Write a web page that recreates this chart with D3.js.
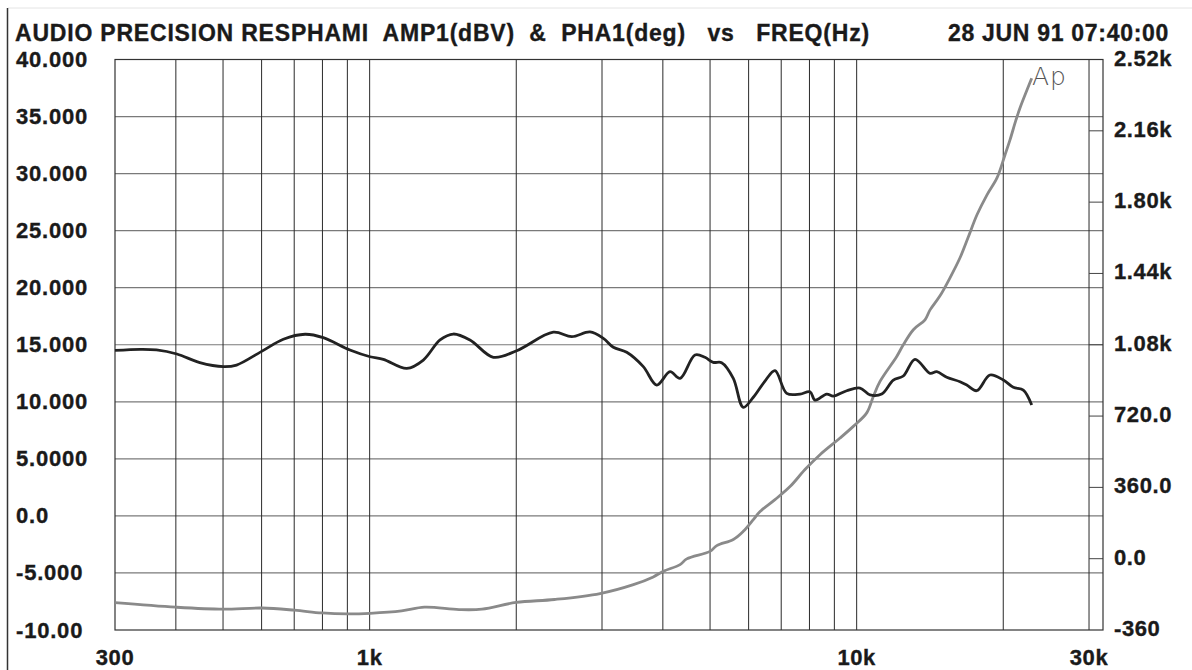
<html>
<head>
<meta charset="utf-8">
<script src="https://d3js.org/d3.v7.min.js"></script>
<style>
  body { margin: 0; background: #fff; }
  text { font-family: "Liberation Sans", Arial, sans-serif; font-weight: bold; fill: #1a1a1a; stroke: #1a1a1a; stroke-width: 0.35px; }
</style>
</head>
<body>
<svg id="chart"></svg>
<script>

// amplitude (dBV) vs frequency
var ampFreq = [300,338,365,402,448,501,533,600,665,737,803,911,1002,1067,1192,1289,1395,1485,1607,1795,2004,2383,2600,2835,3019,3165,3372,3647,3886,4138,4339,4657,4880,5075,5282,5581,5850,6135,6483,6797,7185,7652,8022,8214,8679,8954,9541,10162,10653,11258,11895,12468,13179,14149,14605,15311,16302,16828,17641,18782,20004,20973,21990,22879];
var ampDb = [14.5,14.6,14.55,14.19,13.43,13.08,13.22,14.42,15.48,15.92,15.62,14.54,13.95,13.72,12.93,13.66,15.42,15.94,15.42,13.9,14.48,16.1,15.71,16.12,15.56,14.78,14.34,13.08,11.47,12.64,12.05,14.1,13.9,13.46,13.43,12.06,9.52,10.4,11.82,12.73,10.74,10.68,10.88,10.15,10.68,10.5,10.97,11.2,10.6,10.68,11.9,12.26,13.72,12.5,12.64,12.15,11.76,11.47,10.97,12.35,11.91,11.27,11.03,9.72];

// phase (deg) vs frequency
var phaFreq = [300,400,500,601,701,798,899,1002,1163,1296,1526,1701,1998,2397,2972,3480,3823,4008,4339,4479,5000,5161,5581,5850,6135,6333,6797,7297,7833,8408,9244,9842,10488,10821,11168,12087,12468,13074,13815,14149,14830,15548,16302,16929,17664,18521,19415,20162,20647,21239,21645,22879];
var phaDeg = [-222,-245,-255,-249,-260,-274,-279,-276,-264,-245,-257,-255,-221,-206,-176,-131,-92,-64,-30,-1,37,66,97,138,197,238,298,364,450,525,609,668,736,819,895,1021,1080,1156,1206,1256,1327,1418,1519,1620,1736,1837,1922,2038,2114,2215,2275,2425];

var gridFreqs = [400,500,600,700,800,900,1000,2000,3000,4000,5000,6000,7000,8000,9000,10000,20000,30000];
var xTickVals = [300,1000,10000,30000];
var xTickLabels = ["300","1k","10k","30k"];
var leftVals = [40,35,30,25,20,15,10,5,0,-5,-10];
var leftLabels = ["40.000","35.000","30.000","25.000","20.000","15.000","10.000","5.0000","0.0","-5.000","-10.00"];
var rightVals = [2520,2160,1800,1440,1080,720,360,0,-360];
var rightLabels = ["2.52k","2.16k","1.80k","1.44k","1.08k","720.0","360.0","0.0","-360"];

var title = "AUDIO PRECISION RESPHAMI  AMP1(dBV)  &  PHA1(deg)   vs   FREQ(Hz)";
var stamp = "28 JUN 91 07:40:00";

var W = 1192, H = 670;
var L = 115, R = 1103, T = 59.5, B = 630;

var svg = d3.select("#chart").attr("width", W).attr("height", H);

var x = d3.scaleLog().domain([300, 32050]).range([L, R]);
var yA = d3.scaleLinear().domain([-10, 40]).range([B, T]);
var yP = d3.scaleLinear().domain([-360, 2520]).range([B, T]);

// page frame
svg.append("line").attr("x1", 8).attr("x2", W).attr("y1", 8).attr("y2", 8)
	.attr("stroke", "#e4e4e4").attr("stroke-width", 1);
svg.append("line").attr("x1", 7.5).attr("x2", 7.5).attr("y1", 8).attr("y2", H)
	.attr("stroke", "#333").attr("stroke-width", 1.5);

// grid
svg.append("g").selectAll("line").data(leftVals.slice(1, -1)).enter().append("line")
	.attr("x1", L).attr("x2", R)
	.attr("y1", function(d){ return yA(d); }).attr("y2", function(d){ return yA(d); })
	.attr("stroke", "#7a7a7a").attr("stroke-width", 1.2);
svg.append("g").selectAll("line").data(gridFreqs).enter().append("line")
	.attr("x1", function(d){ return x(d); }).attr("x2", function(d){ return x(d); })
	.attr("y1", T).attr("y2", B)
	.attr("stroke", "#2a2a2a").attr("stroke-width", 1);

// right axis ticks
svg.append("g").selectAll("line").data(rightVals.slice(1, -1)).enter().append("line")
	.attr("x1", x(30000)).attr("x2", R)
	.attr("y1", function(d){ return yP(d); }).attr("y2", function(d){ return yP(d); })
	.attr("stroke", "#444").attr("stroke-width", 1);

svg.append("rect").attr("x", L).attr("y", T).attr("width", R - L).attr("height", B - T)
	.attr("fill", "none").attr("stroke", "#333").attr("stroke-width", 1.2);

// curves
var phaLine = d3.line().curve(d3.curveCatmullRom)
	.x(function(d, i){ return x(phaFreq[i]); })
	.y(function(d){ return yP(d); });
svg.append("path").attr("d", phaLine(phaDeg))
	.attr("fill", "none").attr("stroke", "#8a8a8a").attr("stroke-width", 2.8)
	.attr("stroke-linejoin", "round");

var ampLine = d3.line().curve(d3.curveCatmullRom)
	.x(function(d, i){ return x(ampFreq[i]); })
	.y(function(d){ return yA(d); });
svg.append("path").attr("d", ampLine(ampDb))
	.attr("fill", "none").attr("stroke", "#222").attr("stroke-width", 2.8)
	.attr("stroke-linejoin", "round");

// labels
svg.append("text").attr("x", 15).attr("y", 41).style("font-size", "23px")
	.style("white-space", "pre").style("letter-spacing", "0.8px").text(title);
svg.append("text").attr("x", 1169).attr("y", 41).attr("text-anchor", "end")
	.style("font-size", "23px").style("letter-spacing", "0.7px").text(stamp);

svg.append("g").selectAll("text").data(leftVals).enter().append("text")
	.attr("x", 16).attr("y", function(d){ return yA(d) + 7.5; })
	.style("font-size", "22px").style("letter-spacing", "0.8px")
	.text(function(d, i){ return leftLabels[i]; });

svg.append("g").selectAll("text").data(rightVals).enter().append("text")
	.attr("x", 1114).attr("y", function(d){ return yP(d) + 6; })
	.style("font-size", "22px").style("letter-spacing", "0.6px")
	.text(function(d, i){ return rightLabels[i]; });

svg.append("g").selectAll("text").data(xTickVals).enter().append("text")
	.attr("x", function(d){ return x(d); }).attr("y", 665).attr("text-anchor", "middle")
	.style("font-size", "22px").style("letter-spacing", "0.6px")
	.text(function(d, i){ return xTickLabels[i]; });

// Ap mark
svg.append("text").attr("x", 1032).attr("y", 85)
	.style("font-family", "'DejaVu Sans', sans-serif").style("font-weight", "200")
	.style("font-size", "25px").style("fill", "#555").style("stroke", "none")
	.style("letter-spacing", "1px")
	.text("Ap");

</script>
</body>
</html>
